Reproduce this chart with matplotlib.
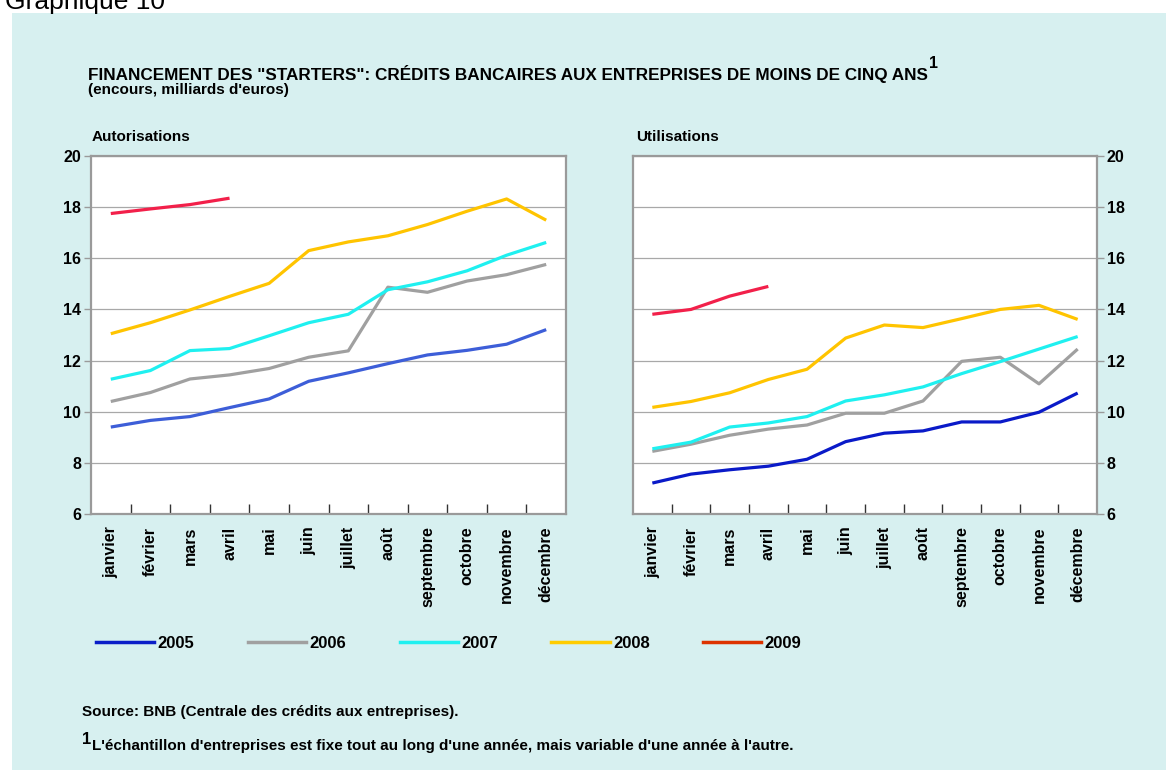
import numpy as np
import matplotlib.pyplot as plt
from matplotlib.lines import Line2D
from matplotlib.patches import Rectangle
from matplotlib.text import Annotation

plt.rcParams['font.family'] = ['Liberation Sans', 'DejaVu Sans']
plt.rcParams['font.weight'] = 'bold'

months = ['janvier', 'février', 'mars', 'avril', 'mai', 'juin', 'juillet',
          'août', 'septembre', 'octobre', 'novembre', 'décembre']
years = ['2005', '2006', '2007', '2008', '2009']

# Autorisations (left panel)
aut_2005 = [9.40, 9.66, 9.81, 10.16, 10.50, 11.19, 11.52, 11.88, 12.22, 12.40, 12.64, 13.21]
aut_2006 = [10.40, 10.75, 11.28, 11.44, 11.69, 12.13, 12.38, 14.87, 14.67, 15.11, 15.36, 15.76]
aut_2007 = [11.27, 11.61, 12.39, 12.47, 12.97, 13.48, 13.81, 14.77, 15.08, 15.51, 16.12, 16.62]
aut_2008 = [13.05, 13.48, 13.98, 14.51, 15.02, 16.30, 16.64, 16.88, 17.32, 17.84, 18.32, 17.49]
aut_2009 = [17.75, 17.93, 18.10, 18.35]

# Utilisations (right panel)
uti_2005 = [7.21, 7.56, 7.73, 7.87, 8.14, 8.83, 9.16, 9.25, 9.60, 9.60, 9.98, 10.73]
uti_2006 = [8.45, 8.73, 9.08, 9.32, 9.48, 9.94, 9.94, 10.42, 11.97, 12.13, 11.09, 12.45]
uti_2007 = [8.55, 8.81, 9.40, 9.56, 9.81, 10.42, 10.66, 10.97, 11.49, 11.96, 12.45, 12.94]
uti_2008 = [10.17, 10.40, 10.74, 11.26, 11.66, 12.88, 13.39, 13.29, 13.64, 14.00, 14.16, 13.61]
uti_2009 = [13.81, 14.00, 14.52, 14.90]

W, H = 1166, 770
fig = plt.figure(figsize=(W / 100, H / 100), dpi=100)
fig.patch.set_facecolor('white')
fig.patches.append(Rectangle((12 / W, 0), 1, 1 - 13 / H, transform=fig.transFigure,
                             facecolor='#d7f0f0', edgecolor='none', zorder=-10))


def px(x0, y0, x1, y1):
    return [x0 / W, 1 - y1 / H, (x1 - x0) / W, (y1 - y0) / H]


grey = '#9a9a9a'


def style_axes(ax, series, colors, right=False):
    x = np.arange(len(months))
    for vals, c in zip(series, colors):
        ax.plot(x[:len(vals)], vals, color=c, lw=2.3, solid_capstyle='butt', zorder=3)
    ax.set_xlim(-0.5, 11.5)
    ax.set_ylim(6, 20)
    ax.set_yticks(range(6, 21, 2))
    ax.grid(axis='y', color='#a8a8a8', lw=0.9)
    ax.set_axisbelow(True)
    for s in ax.spines.values():
        s.set_color(grey)
        s.set_linewidth(1.6)
    ax.set_xticks(x)
    ax.set_xticklabels(months, rotation=90, fontsize=11.5, fontweight='bold')
    ax.tick_params(axis='x', length=0, pad=9)
    ax.set_xticks(np.arange(0.5, 11.5, 1), minor=True)
    ax.tick_params(axis='x', which='minor', direction='in', length=7, color='#333333', width=1)
    ax.tick_params(axis='y', length=5, color=grey, width=1, labelsize=11.5, pad=2)
    if right:
        ax.yaxis.tick_right()
    for lab in ax.get_yticklabels():
        lab.set_fontweight('bold')


ax1 = fig.add_axes(px(91, 156, 566, 514))
style_axes(ax1, [aut_2005, aut_2006, aut_2007, aut_2008, aut_2009],
           ['#3d5ed8', '#a0a0a0', '#1ff0f0', '#ffc400', '#f2204a'])
ax2 = fig.add_axes(px(633, 156, 1097, 514))
style_axes(ax2, [uti_2005, uti_2006, uti_2007, uti_2008, uti_2009],
           ['#0a1ac8', '#a0a0a0', '#1ff0f0', '#ffc400', '#f2204a'], right=True)

fig.text(92 / W, 1 - 137 / H, 'Autorisations', fontsize=11, va='center', fontweight='bold')
fig.text(636 / W, 1 - 137 / H, 'Utilisations', fontsize=11, va='center', fontweight='bold')

t = fig.text(88 / W, 1 - 74 / H,
             'FINANCEMENT DES "STARTERS": CRÉDITS BANCAIRES AUX ENTREPRISES DE MOINS DE CINQ ANS',
             fontsize=12.3, va='center', fontweight='bold')
fig.add_artist(Annotation('1', xy=(1, 0.5), xycoords=t, xytext=(1, 2),
                          textcoords='offset points', fontsize=11.5, fontweight='bold',
                          va='bottom', ha='left'))
fig.text(88 / W, 1 - 90 / H, "(encours, milliards d'euros)", fontsize=11, va='center',
         fontweight='bold')

fig.text(5 / W, 1 - 9 / H, 'Graphique 10', fontsize=19, va='baseline', fontweight='normal')

leg_colors = ['#0a1ec8', '#a0a0a0', '#1ff0f0', '#ffcc00', '#dd3300']
handles = [Line2D([], [], color=c, lw=2.5) for c in leg_colors]
fig.legend(handles, years, loc='center left', bbox_to_anchor=(81 / W, 1 - 643 / H),
           ncol=5, frameon=False, handlelength=3.5, handletextpad=0.2,
           columnspacing=3.2, prop={'weight': 'bold', 'size': 12})

fig.text(82 / W, 1 - 712 / H, 'Source: BNB (Centrale des crédits aux entreprises).',
         fontsize=11, va='center', fontweight='bold')
fig.text(82 / W, 1 - 739 / H, '1', fontsize=12, va='center', fontweight='bold')
fig.text(92 / W, 1 - 746 / H,
         "L'échantillon d'entreprises est fixe tout au long d'une année, mais variable d'une année à l'autre.",
         fontsize=11, va='center', fontweight='bold')

fig.savefig('out.png', dpi=100, facecolor=fig.get_facecolor())
